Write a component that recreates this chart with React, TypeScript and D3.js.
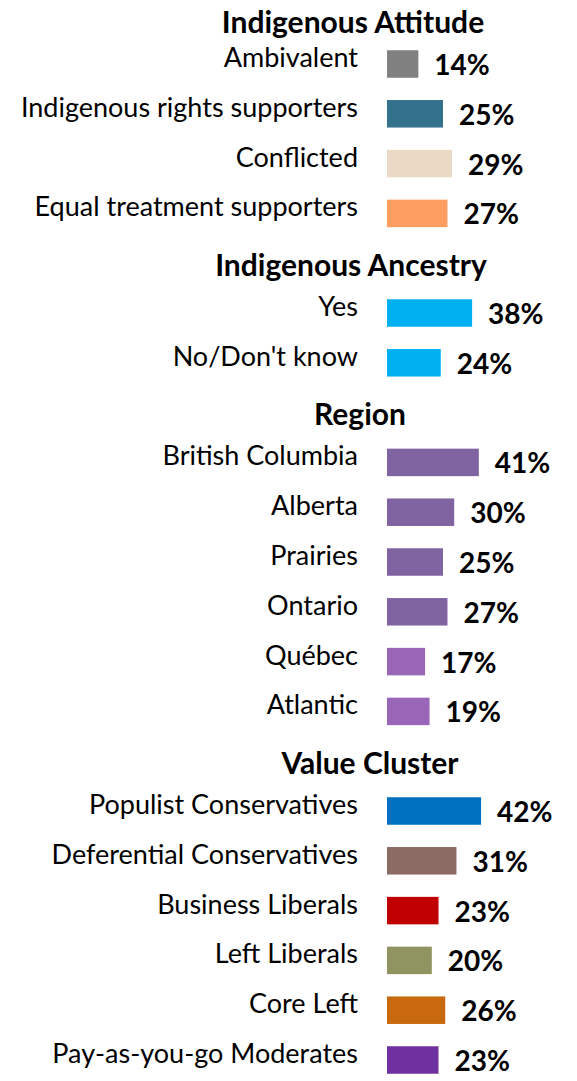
import React from "react";
import * as d3 from "d3";

const groups = ["Indigenous Attitude", "Indigenous Ancestry", "Region", "Value Cluster"];
const groupCategories = [
  ["Ambivalent", "Indigenous rights supporters", "Conflicted", "Equal treatment supporters"],
  ["Yes", "No/Don't know"],
  ["British Columbia", "Alberta", "Prairies", "Ontario", "Québec", "Atlantic"],
  ["Populist Conservatives", "Deferential Conservatives", "Business Liberals", "Left Liberals", "Core Left", "Pay-as-you-go Moderates"],
];
const groupValues = [
  [14, 25, 29, 27],
  [38, 24],
  [41, 30, 25, 27, 17, 19],
  [42, 31, 23, 20, 26, 23],
];
const groupColors = [
  ["#808080", "#33718D", "#EAD9C5", "#FF9E60"],
  ["#00B0F0", "#00B0F0"],
  ["#8064A2", "#8064A2", "#8064A2", "#8064A2", "#9966B8", "#9966B8"],
  ["#0070C0", "#8B6B63", "#C00000", "#8F9460", "#C8690E", "#7030A0"],
];
const headerCenters = [353, 351, 360, 370];

type Row = { key: string; type: "header" | "bar"; label: string; value?: number; color?: string; g: number };

const rows: Row[] = [];
groups.forEach((g, gi) => {
  rows.push({ key: "h" + gi, type: "header", label: g, g: gi });
  groupCategories[gi].forEach((c, ci) => {
    rows.push({ key: gi + "-" + ci, type: "bar", label: c, value: groupValues[gi][ci], color: groupColors[gi][ci], g: gi });
  });
});

const W = 577;
const H = 1081;
const FONT = "Lato, 'Open Sans', sans-serif";

export default function App() {
  const step = 49.8;
  const y = d3
    .scaleBand<string>()
    .domain(rows.map((r) => r.key))
    .range([14.2 - step / 2, 14.2 - step / 2 + step * rows.length])
    .paddingInner(0.44)
    .paddingOuter(0.22);
  const x = d3.scaleLinear().domain([0, 100]).range([387, 387 + 224]);
  const bh = 27.5;

  return (
    <svg width={W} height={H} style={{ position: "absolute", left: 0, top: 0, background: "#fff" }}>
      {rows.map((r) => {
        const cy = (y(r.key) as number) + y.bandwidth() / 2;
        if (r.type === "header") {
          const hy = Math.max(cy + 2, 22);
          return (
            <text
              key={r.key}
              x={headerCenters[r.g]}
              y={hy + 10.5}
              textAnchor="middle"
              fontFamily={FONT}
              fontWeight="bold"
              fontSize={30}
              fill="#000"
            >
              {r.label}
            </text>
          );
        }
        const v = r.value as number;
        return (
          <g key={r.key}>
            <text x={358} y={cy + 3} textAnchor="end" fontFamily={FONT} fontSize={27} fill="#000">
              {r.label}
            </text>
            <rect x={x(0)} y={cy - bh / 2} width={x(v) - x(0)} height={bh} fill={r.color} />
            <text x={x(v) + 16} y={cy + 11} fontFamily={FONT} fontWeight="bold" fontSize={28} fill="#000">
              {v + "%"}
            </text>
          </g>
        );
      })}
    </svg>
  );
}
